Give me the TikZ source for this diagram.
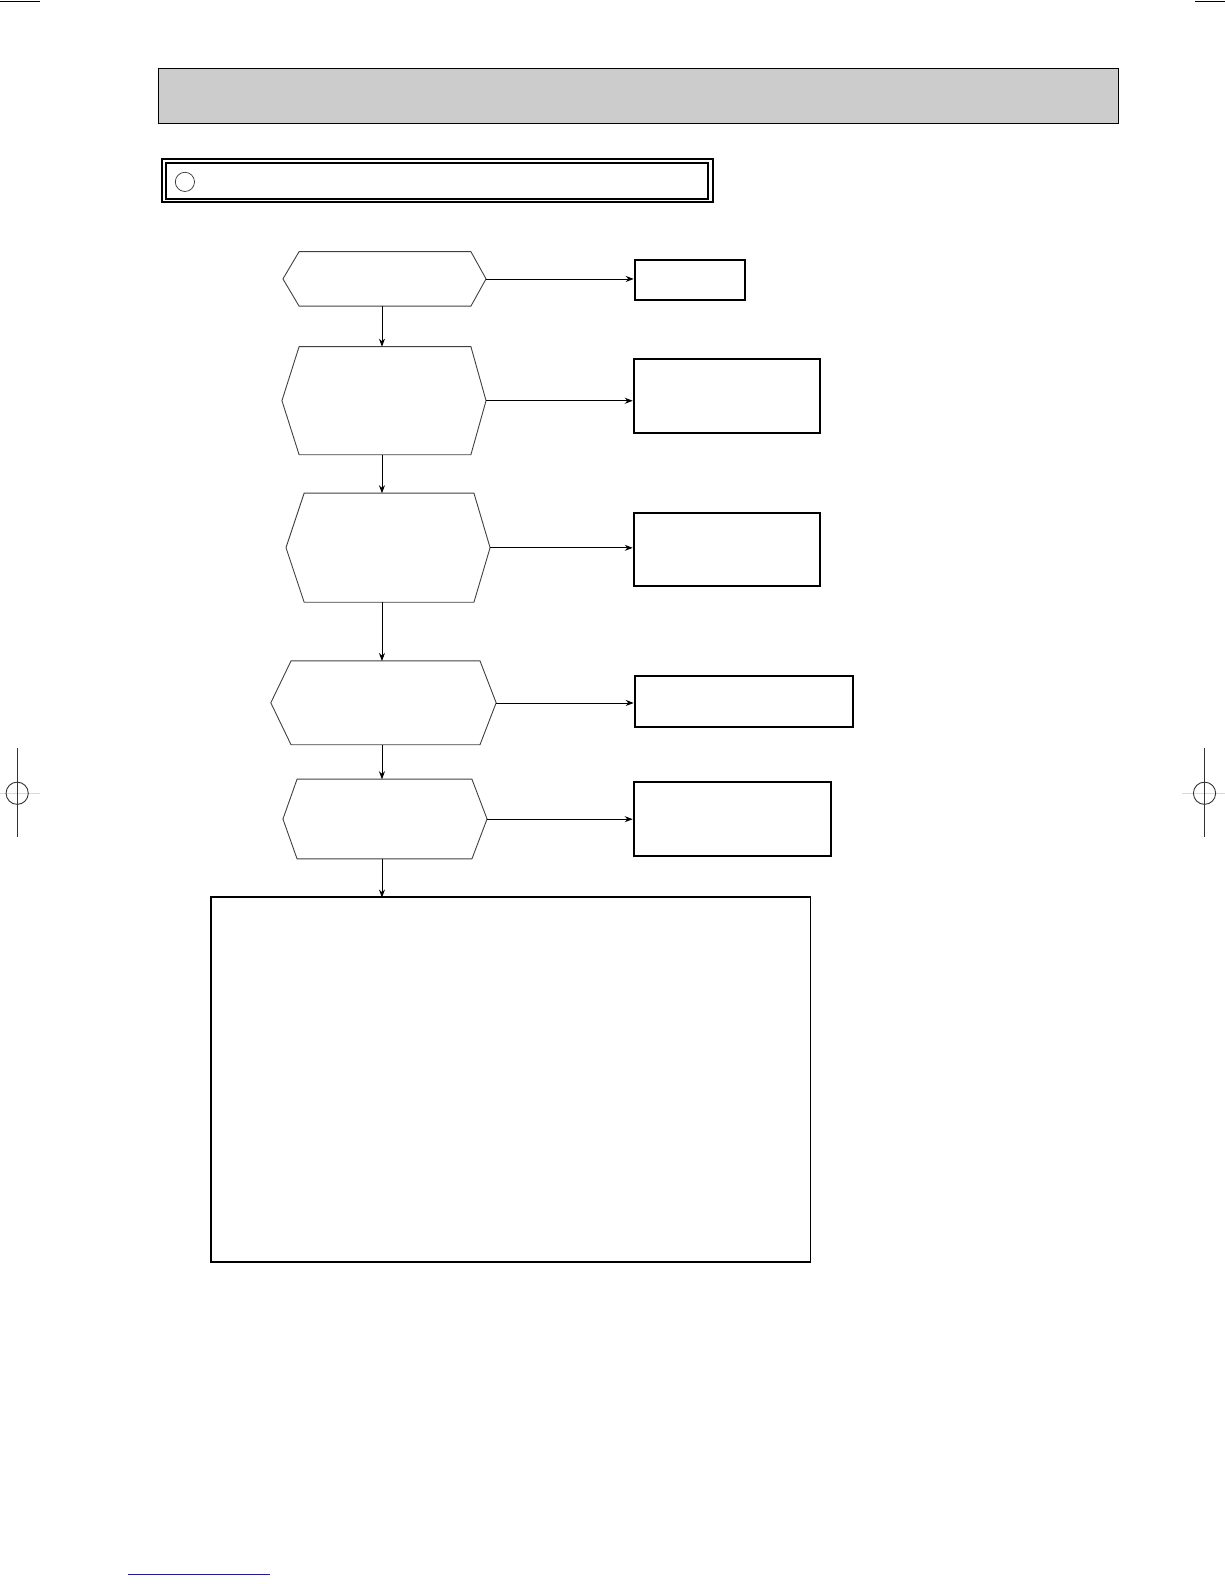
\documentclass[tikz,border=0pt]{standalone}
\usetikzlibrary{arrows.meta,calc}
\tikzset{
  hexline/.style={draw=black!75, line width=0.9pt},
  stepbox/.style={draw=black, line width=2pt, inner sep=0pt, minimum width=#1},
  flow/.style={draw=black, line width=0.9pt, -{Stealth[length=8pt,width=6pt]}},
  anchorbox/.style={inner sep=0pt, outer sep=0pt},
  crop/.style={draw=black!80, line width=0.9pt},
}
% \hexag{name}{xl}{xil}{xir}{xr}{yt}{yb}
\newcommand{\hexag}[7]{%
  \pgfmathsetmacro{\hxw}{#5-#2}%
  \pgfmathsetmacro{\hxh}{#7-#6}%
  \pgfmathsetmacro{\hxcx}{(#5+#2)/2}%
  \pgfmathsetmacro{\hxcy}{(#7+#6)/2}%
  \node[anchorbox, minimum width=\hxw pt, minimum height=\hxh pt] (#1) at (\hxcx,\hxcy) {};
  \draw[hexline] (#2,\hxcy) -- (#3,#6) -- (#4,#6) -- (#5,\hxcy) -- (#4,#7) -- (#3,#7) -- cycle;
}
\begin{document}
\begin{tikzpicture}[x=1pt,y=-1pt]
\useasboundingbox (0,0) rectangle (1224,1584);
\begin{scope}[scale=1.0105, every node/.append style={transform shape}]
% page corner lines
\draw[black, line width=1pt] (0,1) -- (40,1);
\draw[black, line width=1pt] (1183,1) -- (1224,1);
% crop marks
\draw[black!15, line width=1pt] (0,785) -- (40,785);
\draw[crop] (17,740) -- (17,828);
\draw[crop] (17,785) circle (11);
\draw[black!15, line width=1pt] (1170,785) -- (1224,785);
\draw[crop] (1192,740) -- (1192,828);
\draw[crop] (1192,785) circle (11);
% header
\node[anchorbox, draw=black, line width=1.5pt, fill=black!20, minimum width=950pt, minimum height=54pt] (header) at (632,95) {};
% double title box
\node[anchorbox, draw=black, line width=2pt, minimum width=546pt, minimum height=43pt] (titleout) at (433,178.5) {};
\node[anchorbox, draw=black, line width=2pt, minimum width=537pt, minimum height=35pt] (titlein) at (432.5,179) {};
\node[anchorbox, draw=black!80, line width=0.7pt, circle, minimum size=19pt] (mark) at (183,180) {};
% hexagons
\hexag{h1}{280}{296}{466}{481}{249}{303}
\hexag{h2}{279}{296}{466}{481}{343}{450}
\hexag{h3}{283}{301}{469}{485}{488}{596}
\hexag{h4}{268}{288}{475}{491}{654}{737}
\hexag{h5}{280}{294}{467}{482}{771}{850}
% boxes
\node[stepbox=109pt, minimum height=40pt] (b1) at (682.5,277) {};
\node[stepbox=184pt, minimum height=73pt] (b2) at (719,392) {};
\node[stepbox=184pt, minimum height=72pt] (b3) at (719,544) {};
\node[stepbox=216pt, minimum height=50pt] (b4) at (736,694) {};
\node[stepbox=195pt, minimum height=73pt] (b5) at (724.5,810.5) {};
\node[anchorbox, draw=black, line width=1.8pt, minimum width=593pt, minimum height=361pt] (big) at (505.5,1068.5) {};
% connectors
\draw[flow] (h1.east) -- (h1.east -| b1.west);
\draw[flow] (h2.east) -- (h2.east -| b2.west);
\draw[flow] (h3.east) -- (h3.east -| b3.west);
\draw[flow] (h4.east) -- (h4.east -| b4.west);
\draw[flow] (h5.east) -- (h5.east -| b5.west);
\draw[flow] (h1.south -| 378,0) -- (h2.north -| 378,0);
\draw[flow] (h2.south -| 378,0) -- (h3.north -| 378,0);
\draw[flow] (h3.south -| 378,0) -- (h4.north -| 378,0);
\draw[flow] (h4.south -| 378,0) -- (h5.north -| 378,0);
\draw[flow] (h5.south -| 378,0) -- (big.north -| 378,0);
% bottom blue line
\draw[color={rgb,255:red,30;green,30;blue,150}, line width=1.5pt] (127,1558) -- (267,1558);
\end{scope}
\end{tikzpicture}
\end{document}
